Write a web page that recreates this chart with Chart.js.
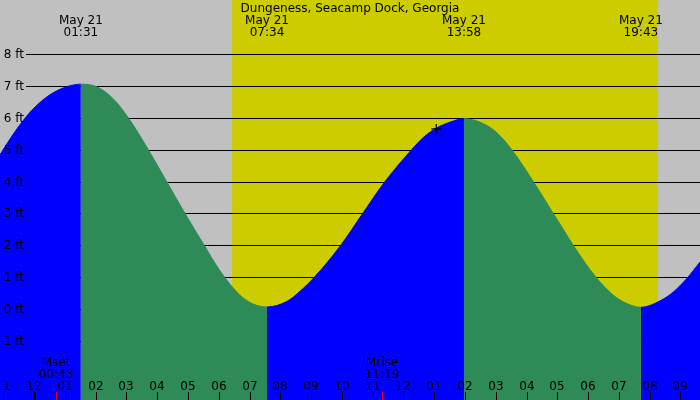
<!DOCTYPE html>
<html>
<head>
<meta charset="utf-8">
<script src="https://cdn.jsdelivr.net/npm/chart.js@4"></script>
<style>
  html, body { margin: 0; padding: 0; background: #c0c0c0; }
  #wrap { width: 700px; height: 400px; }
</style>
</head>
<body>
<div id="wrap"><canvas id="tide" width="700" height="400"></canvas></div>
<script>
// tide curve: hours after midnight May 21, height in ft
const tideHours = [-1.111, -0.787, -0.462, -0.029, 0.514, 1.056, 1.517, 2.031, 2.571, 3.058,
    3.708, 4.251, 4.901, 5.528, 6.04, 6.688, 7.121, 7.567, 8.206, 8.638,
    9.103, 9.961, 10.676, 11.401, 12.268, 12.646, 13.08, 13.51, 13.967, 14.488,
    14.976, 15.519, 16.22, 16.87, 17.196, 17.52, 18.258, 18.82, 19.256, 19.717,
    20.338, 20.771, 21.206, 21.638];
const tideFeet = [4.84, 5.33, 5.78, 6.28, 6.72, 6.97, 7.05, 6.97, 6.59, 6.0,
    5.0, 4.09, 3.0, 2.0, 1.2, 0.44, 0.16, 0.07, 0.24, 0.56,
    1.0, 2.0, 3.0, 4.0, 5.0, 5.38, 5.68, 5.86, 5.97, 5.86,
    5.58, 5.0, 4.0, 3.0, 2.5, 2.0, 1.0, 0.44, 0.18, 0.06,
    0.26, 0.54, 0.96, 1.48];

// high / low tide labels
const extremeHours = [1.517, 7.567, 13.967, 19.717];
const extremeTimes = ['01:31', '07:34', '13:58', '19:43'];
const extremeDate = 'May 21';

// current time marker
const nowHour = 13.067;
const nowFeet = 5.65;

// daylight and moon
const sunriseHour = 6.43;
const sunsetHour = 20.27;
const moonHours = [0.717, 11.317];
const moonNames = ['Mset', 'Mrise'];
const moonTimes = ['00:43', '11:19'];

// axis ticks
const feetTicks = [-1, 0, 1, 2, 3, 4, 5, 6, 7, 8];
const hourTicks = [-1, 0, 1, 2, 3, 4, 5, 6, 7, 8, 9, 10, 11, 12, 13, 14, 15, 16, 17, 18, 19, 20, 21];
const hourLabels = ['11', '12', '01', '02', '03', '04', '05', '06', '07', '08', '09', '10',
    '11', '12', '01', '02', '03', '04', '05', '06', '07', '08', '09'];

const title = 'Dungeness, Seacamp Dock, Georgia';

const GRAY = '#c0c0c0';
const YELLOW = '#cccc00';
const FLOOD = '#0000ff';
const EBB = '#2e8b57';
const FONT = '12px "DejaVu Sans", sans-serif';

const tideDecor = {
    id: 'tideDecor',
    beforeDraw(chart) {
        const { ctx, chartArea: a, scales: { x } } = chart;
        ctx.save();
        ctx.fillStyle = GRAY;
        ctx.fillRect(0, 0, chart.width, chart.height);
        const x1 = Math.round(x.getPixelForValue(sunriseHour));
        const x2 = Math.round(x.getPixelForValue(sunsetHour));
        ctx.fillStyle = YELLOW;
        ctx.fillRect(x1, a.top, x2 - x1, a.bottom - a.top);
        ctx.restore();
    },
    beforeDatasetsDraw(chart) {
        // horizontal foot lines, hidden under the water
        const { ctx, chartArea: a, scales: { y } } = chart;
        ctx.save();
        ctx.strokeStyle = '#000';
        ctx.lineWidth = 1;
        feetTicks.forEach(v => {
            const py = Math.round(y.getPixelForValue(v)) + 0.5;
            ctx.beginPath();
            ctx.moveTo(26, py);
            ctx.lineTo(a.right, py);
            ctx.stroke();
        });
        ctx.restore();
    },
    afterDatasetsDraw(chart) {
        const { ctx, chartArea: a, scales: { x, y } } = chart;
        ctx.save();
        ctx.fillStyle = '#000';
        ctx.font = FONT;

        // foot labels
        ctx.textAlign = 'right';
        ctx.textBaseline = 'middle';
        feetTicks.forEach(v => {
            ctx.fillText(v + ' ft', 24, Math.round(y.getPixelForValue(v)) + 1);
        });

        // title and extreme times
        ctx.textAlign = 'center';
        ctx.textBaseline = 'alphabetic';
        ctx.fillText(title, 350, 12);
        extremeHours.forEach((h, i) => {
            const px = x.getPixelForValue(h);
            ctx.fillText(extremeDate, px, 24);
            ctx.fillText(extremeTimes[i], px, 36);
        });

        // hour labels and ticks
        hourTicks.forEach((h, i) => {
            const px = Math.round(x.getPixelForValue(h));
            ctx.fillText(hourLabels[i], px, 390);
            ctx.fillRect(h === 0 ? px - 1 : px, 392, h === 0 ? 3 : 1, a.bottom - 392);
        });

        // moon events
        moonHours.forEach((h, i) => {
            const px = Math.round(x.getPixelForValue(h));
            ctx.fillStyle = '#000';
            ctx.fillText(moonNames[i], px, 366);
            ctx.fillText(moonTimes[i], px, 378);
            ctx.fillStyle = '#ff0000';
            ctx.fillRect(px, 392, 1, a.bottom - 392);
        });
        ctx.restore();
    }
};

const phaseColor = c => (c.p1.parsed.y >= c.p0.parsed.y ? FLOOD : EBB);

const ctx = document.getElementById('tide').getContext('2d');
const chart = new Chart(ctx, {
    type: 'line',
    data: {
        datasets: [
            {
                label: 'now',
                data: [{ x: nowHour, y: nowFeet }],
                showLine: false,
                pointStyle: 'cross',
                pointRadius: 5,
                pointBorderColor: '#000',
                pointBorderWidth: 1.2,
                fill: false,
                order: 0
            },
            {
                label: 'tide',
                data: tideHours.map((h, i) => ({ x: h, y: tideFeet[i] })),
                cubicInterpolationMode: 'monotone',
                pointRadius: 0,
                borderWidth: 1,
                borderColor: FLOOD,
                backgroundColor: FLOOD,
                fill: 'start',
                segment: {
                    borderColor: phaseColor,
                    backgroundColor: phaseColor
                },
                order: 1
            }
        ]
    },
    options: {
        responsive: false,
        devicePixelRatio: 1,
        animation: false,
        layout: { padding: 0, autoPadding: false },
        plugins: {
            legend: { display: false },
            tooltip: { enabled: false }
        },
        scales: {
            x: { type: 'linear', min: -1.111, max: 21.638, display: false },
            y: { min: -2.844, max: 9.688, display: false }
        }
    },
    plugins: [tideDecor]
});
</script>
</body>
</html>
